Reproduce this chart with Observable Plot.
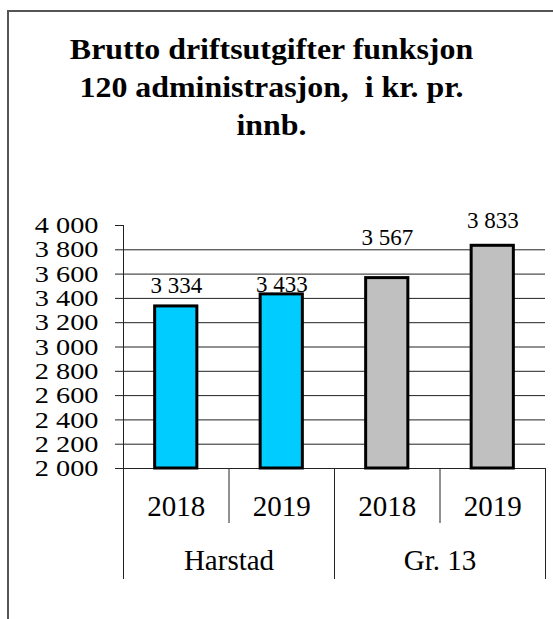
<!DOCTYPE html>
<html><head><meta charset="utf-8">
<script src="https://cdn.jsdelivr.net/npm/d3@7"></script>
<script src="https://cdn.jsdelivr.net/npm/@observablehq/plot@0.6"></script>
</head><body style="margin:0;padding:0;background:#fff;width:553px;height:619px;overflow:hidden;position:relative;color:#000;">
<div id="frame" style="position:absolute;left:7px;top:10px;width:600px;height:700px;border:2px solid #555;"></div>
<svg id="title" width="553" height="200" style="position:absolute;left:0;top:0;">
  <g transform="translate(271.5,0) scale(1.1,1)">
    <text x="0" y="59" text-anchor="middle" font-family="Liberation Serif" font-weight="bold" font-size="29">Brutto driftsutgifter funksjon</text>
    <text x="0" y="97" text-anchor="middle" font-family="Liberation Serif" font-weight="bold" font-size="29" xml:space="preserve">120 administrasjon,  i kr. pr.</text>
    <text x="0" y="135" text-anchor="middle" font-family="Liberation Serif" font-weight="bold" font-size="29">innb.</text>
  </g>
</svg>
<div id="chart" style="position:absolute;left:0;top:200px;"></div>
<script>
// ---- data ----
const groups = ["Harstad", "Gr. 13"];
const years = ["2018", "2019", "2018", "2019"];
const values = [3334, 3433, 3567, 3833];
const barColors = ["#00CCFF", "#00CCFF", "#C0C0C0", "#C0C0C0"];
const yTicks = [2000, 2200, 2400, 2600, 2800, 3000, 3200, 3400, 3600, 3800, 4000];
const yMin = 2000, yMax = 4000;
// manual label offsets (px) as placed in the original
const labelDy = [-13, -2, -33, -18];

const rows = values.map((v, i) => ({i, year: years[i], value: v, color: barColors[i]}));
const groupRows = groups.map((g, j) => ({j, group: g}));
const fmt = d3.formatLocale({thousands: "\u00a0", grouping: [3], decimal: ","}).format(",");

const marks = [
  Plot.ruleY(yTicks.filter(t => t < yMax), {stroke: "#222", strokeWidth: 1}),
  Plot.rectY(rows, {x1: d => d.i + 0.3, x2: d => d.i + 0.7, y1: yMin, y2: "value", fill: "color", stroke: "#000", strokeWidth: 3}),
  Plot.ruleX([0], {y1: yMin, y2: yMax, stroke: "#222"}),
  Plot.axisY({ticks: yTicks, tickSize: 8, tickPadding: 17, tickFormat: fmt, fontSize: 24, stroke: "#222", label: null}),
  Plot.axisX({ticks: [0, 2, 4], tickSize: 111, tickFormat: () => "", stroke: "#222", label: null}),
  Plot.axisX({ticks: [1, 3], tickSize: 55, tickFormat: () => "", stroke: "#222", label: null}),
  Plot.text(rows, {x: d => d.i + 0.5, text: "year", frameAnchor: "bottom", dy: 38, lineAnchor: "middle", fontSize: 29}),
  Plot.text(groupRows, {x: d => d.j * 2 + 1, text: "group", frameAnchor: "bottom", dy: 92, lineAnchor: "middle", fontSize: 29}),
  ...rows.map((r, k) => Plot.text([r], {x: d => d.i + 0.5, y: "value", text: d => fmt(d.value), lineAnchor: "bottom", dy: labelDy[k], fontSize: 23}))
];

const chart = Plot.plot({
  width: 553,
  height: 419,
  marginLeft: 123,
  marginRight: 8,
  marginTop: 25,
  marginBottom: 151,
  x: {type: "linear", domain: [0, 4], axis: null},
  y: {type: "linear", domain: [yMin, yMax], label: null},
  color: {type: "identity"},
  style: {fontSize: "23px", background: "transparent", color: "#000", overflow: "visible"},
  marks
});
// let each text carry the serif family as a presentation attribute
chart.style.removeProperty("font-family");
chart.style.removeProperty("font");
chart.style.fontSize = "23px";
d3.select(chart).selectAll("g").attr("font-family", null);
d3.select(chart).selectAll("text").attr("font-family", "Liberation Serif");
// the original's y tick labels are drawn horizontally stretched
d3.select(chart).selectAll("[aria-label='y-axis tick label'] text").attr("transform", function () {
  return (this.getAttribute("transform") || "") + " scale(1.18,1)";
});
document.getElementById("chart").appendChild(chart);
</script>
</body></html>
